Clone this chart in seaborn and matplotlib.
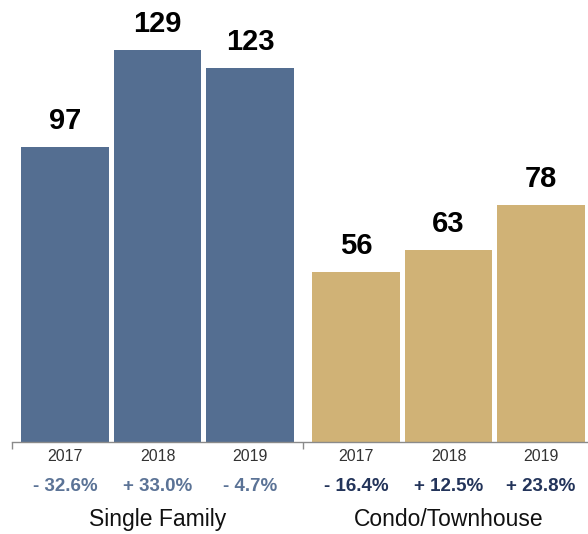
import matplotlib
matplotlib.use("Agg")
import matplotlib.pyplot as plt
import seaborn as sns
import pandas as pd
import numpy as np

groups = ["Single Family", "Condo/Townhouse"]
years = ["2017", "2018", "2019"]
single_family = [97, 129, 123]
condo = [56, 63, 78]
sf_changes = ["- 32.6%", "+ 33.0%", "- 4.7%"]
condo_changes = ["- 16.4%", "+ 12.5%", "+ 23.8%"]

colors = {"Single Family": "#546E91", "Condo/Townhouse": "#D0B276"}
change_colors = {"Single Family": "#5B7396", "Condo/Townhouse": "#23345A"}

sns.set_style("white")
plt.rcParams["font.family"] = ["Liberation Sans", "DejaVu Sans"]

group_gap = 1.146  # spacing between group blocks in bar-slot units
rows = []
for gi, (g, vals, chg) in enumerate(zip(groups, [single_family, condo], [sf_changes, condo_changes])):
    for i, (y, v, c) in enumerate(zip(years, vals, chg)):
        rows.append({"pos": gi * (2 + group_gap) + i, "value": v, "group": g,
                     "year": y, "change": c})
df = pd.DataFrame(rows)

fig = plt.figure(figsize=(5.88, 5.34), dpi=100)
ax = fig.add_axes([12 / 588, 92 / 534, 576 / 588, 442 / 534])

sns.barplot(data=df, x="pos", y="value", hue="group", palette=colors,
            native_scale=True, dodge=False, width=0.95, saturation=1,
            legend=False, linewidth=0, ax=ax)

left = -0.573
ax.set_xlim(left, 5.654)
ax.set_ylim(0, 145.4)

for s in ["top", "right", "left"]:
    ax.spines[s].set_visible(False)
ax.spines["bottom"].set_color("#8a8a8a")
ax.spines["bottom"].set_linewidth(1.0)

mid = (2 + (2 + group_gap)) / 2
ax.set_xticks([left, mid])
ax.set_xticklabels([])
ax.tick_params(axis="x", length=5, width=1, color="#8a8a8a", direction="out", bottom=True)
ax.set_yticks([])
ax.set_xlabel("")
ax.set_ylabel("")

for _, r in df.iterrows():
    ax.annotate(str(r["value"]), (r["pos"], r["value"]), xytext=(0, 13),
                textcoords="offset points", ha="center", va="baseline",
                fontsize=21, fontweight="bold", color="#000000")
    ax.annotate(r["year"], (r["pos"], 0), xycoords=("data", "axes fraction"),
                xytext=(0, -10.5), textcoords="offset points", ha="center", va="center",
                fontsize=11.5, color="#333333")
    ax.annotate(r["change"], (r["pos"], 0), xycoords=("data", "axes fraction"),
                xytext=(0, -32), textcoords="offset points", ha="center", va="center",
                fontsize=13.5, fontweight="bold", color=change_colors[r["group"]])

for gi, g in enumerate(groups):
    cx = gi * (2 + group_gap) + 1
    ax.annotate(g, (cx, 0), xycoords=("data", "axes fraction"),
                xytext=(0, -55.5), textcoords="offset points", ha="center", va="center",
                fontsize=16.5, color="#111111")

fig.savefig("out.png", dpi=100)
